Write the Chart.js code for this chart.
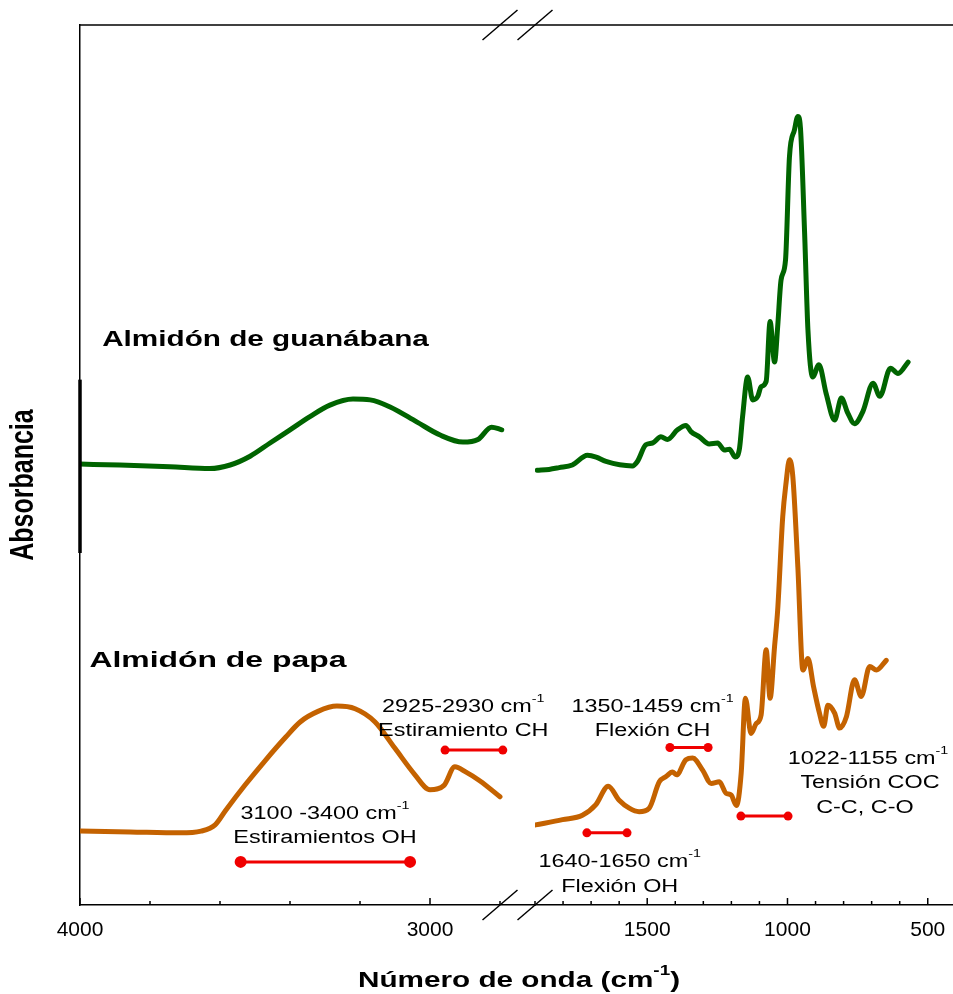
<!DOCTYPE html>
<html>
<head>
<meta charset="utf-8">
<script src="https://cdn.jsdelivr.net/npm/chart.js@4.4.0/dist/chart.umd.min.js"></script>
<style>
  html, body { margin: 0; padding: 0; background: #fff; overflow: hidden; }
  #wrap { position: relative; width: 953px; height: 994px; }
  #mycanvas { display: block; }
</style>
</head>
<body>
<div id="wrap"><canvas id="mycanvas"></canvas></div>
<script>
// FTIR spectra: wavenumber (cm-1) and stacked absorbance (a.u.)
var guanLeftWn  = [4000, 3886, 3743, 3629, 3571, 3514, 3457, 3400, 3343, 3286, 3220, 3171, 3114, 3038, 2971, 2906, 2863, 2824, 2795];
var guanLeftAbs = [0.501, 0.500, 0.498, 0.496, 0.500, 0.510, 0.525, 0.540, 0.555, 0.568, 0.575, 0.574, 0.566, 0.549, 0.534, 0.526, 0.529, 0.543, 0.540];

var guanRightWn  = [1892, 1850, 1814, 1767, 1713, 1682, 1647, 1553, 1535, 1505, 1481, 1451, 1428, 1392, 1362, 1344, 1314, 1279, 1249, 1225,
                    1207, 1186, 1171, 1160, 1142, 1124, 1106, 1094, 1076, 1062, 1046, 1035, 1023, 1007, 993, 975, 963, 954, 939, 927,
                    910, 888, 862, 832, 808, 785, 761, 731, 695, 671, 633, 606, 570];
var guanRightAbs = [0.494, 0.495, 0.497, 0.500, 0.511, 0.509, 0.504, 0.499, 0.504, 0.523, 0.525, 0.532, 0.529, 0.540, 0.545, 0.538, 0.532, 0.524, 0.525, 0.517,
                    0.518, 0.509, 0.519, 0.555, 0.600, 0.574, 0.578, 0.589, 0.595, 0.663, 0.617, 0.657, 0.710, 0.733, 0.850, 0.881, 0.896, 0.884, 0.764, 0.653,
                    0.600, 0.614, 0.581, 0.551, 0.576, 0.559, 0.547, 0.561, 0.593, 0.578, 0.610, 0.604, 0.617];

var papaLeftWn  = [4000, 3857, 3714, 3654, 3614, 3583, 3529, 3469, 3414, 3371, 3320, 3266, 3214, 3157, 3100, 3043, 3000, 2960, 2929, 2897, 2857, 2800];
var papaLeftAbs = [0.084, 0.083, 0.082, 0.084, 0.091, 0.108, 0.136, 0.165, 0.190, 0.208, 0.220, 0.226, 0.223, 0.208, 0.178, 0.148, 0.131, 0.136, 0.157, 0.151, 0.141, 0.123];

var papaRightWn  = [1898, 1802, 1731, 1683, 1639, 1600, 1564, 1529, 1493, 1457, 1433, 1410, 1395, 1362, 1338, 1302, 1272, 1243, 1219, 1201,
                    1182, 1165, 1150, 1130, 1112, 1094, 1076, 1062, 1046, 1035, 1017, 1005, 993, 981, 963, 945, 927, 907, 886, 871,
                    856, 832, 814, 790, 761, 737, 707, 683, 648];
var papaRightAbs = [0.091, 0.097, 0.102, 0.114, 0.135, 0.119, 0.110, 0.106, 0.110, 0.140, 0.146, 0.151, 0.148, 0.165, 0.167, 0.153, 0.138, 0.140, 0.127, 0.125,
                    0.113, 0.150, 0.235, 0.195, 0.206, 0.216, 0.290, 0.235, 0.294, 0.335, 0.441, 0.480, 0.506, 0.487, 0.384, 0.267, 0.280, 0.248, 0.218, 0.203,
                    0.227, 0.218, 0.201, 0.214, 0.256, 0.237, 0.271, 0.267, 0.278];

// band ranges marked with red bars: [from, to] wavenumber and the level they sit at
var bandOhStretch = [3541, 3057], bandOhStretchY = 0.049;
var bandChStretch = [2957, 2792], bandChStretchY = 0.176;
var bandChBend    = [1419, 1283], bandChBendY    = 0.179;
var bandOhBend    = [1715, 1572], bandOhBendY    = 0.082;
var bandCoc       = [1166, 998],  bandCocY       = 0.101;

// axis ticks (broken axis: 4000-2700 | 1900-410)
var leftTicks   = [4000, 3800, 3600, 3400, 3200, 3000, 2800];
var rightTicks  = [1900, 1800, 1700, 1600, 1500, 1400, 1300, 1200, 1100, 1000, 900, 800, 700, 600, 500];
var leftLabels  = [4000, 3000];
var rightLabels = [1500, 1000, 500];

// absorbance scale bar on the y axis
var scaleBar = [0.400, 0.597];

var GREEN = '#006400', ORANGE = '#c46200', RED = '#f00000';
var FONT = 'Arial, "Liberation Sans", sans-serif';

function toPts(wn, ab) {
  return wn.map(function(w, i) { return {x: w, y: ab[i]}; });
}
function bandPts(range, y) {
  return [{x: range[0], y: y}, {x: range[1], y: y}];
}

function spectrum(data, color, axis) {
  return {
    data: data, xAxisID: axis, yAxisID: 'y',
    borderColor: color, borderWidth: 5, pointRadius: 0,
    cubicInterpolationMode: 'monotone', borderCapStyle: 'round', borderJoinStyle: 'round',
    fill: false
  };
}
function band(data, axis, r) {
  return {
    data: data, xAxisID: axis, yAxisID: 'y',
    borderColor: RED, borderWidth: 3, pointRadius: r,
    pointBackgroundColor: RED, pointBorderWidth: 0, fill: false
  };
}

// text labels (placed in data coords, stretched horizontally like the original figure)
var notes = [
  {axis: 'xL', x: 3300, y: 0.0977, parts: [['3100 -3400 cm'], ['-1', 1]]},
  {axis: 'xL', x: 3300, y: 0.0705, parts: [['Estiramientos OH']]},
  {axis: 'xL', x: 2905, y: 0.2197, parts: [['2925-2930 cm'], ['-1', 1]]},
  {axis: 'xL', x: 2905, y: 0.1920, parts: [['Estiramiento CH']]},
  {axis: 'xR', x: 1481, y: 0.2197, parts: [['1350-1459 cm'], ['-1', 1]]},
  {axis: 'xR', x: 1481, y: 0.1920, parts: [['Flexión CH']]},
  {axis: 'xR', x: 1598, y: 0.0432, parts: [['1640-1650 cm'], ['-1', 1]]},
  {axis: 'xR', x: 1598, y: 0.0148, parts: [['Flexión OH']]},
  {axis: 'xR', x: 713,  y: 0.1600, parts: [['1022-1155 cm'], ['-1', 1]]},
  {axis: 'xR', x: 706,  y: 0.1326, parts: [['Tensión COC']]},
  {axis: 'xR', x: 724,  y: 0.1049, parts: [['C-C, C-O']]},
  {axis: 'xL', x: 3470, y: 0.635, parts: [['Almidón de guanábana']], size: 22, bold: true, sx: 1.35},
  {axis: 'xL', x: 3606, y: 0.270, parts: [['Almidón de papa']], size: 22, bold: true, sx: 1.45}
];

function drawParts(ctx, parts, cx, base, size, bold, sx) {
  var b = bold ? 'bold ' : '';
  var supSize = Math.round(size * 0.62);
  var widths = [], total = 0;
  parts.forEach(function(p) {
    ctx.font = b + (p[1] ? supSize : size) + 'px ' + FONT;
    var w = ctx.measureText(p[0]).width;
    widths.push(w); total += w;
  });
  ctx.save();
  ctx.translate(cx, base);
  ctx.scale(sx, 1);
  ctx.fillStyle = '#000';
  ctx.textAlign = 'left';
  ctx.textBaseline = 'alphabetic';
  var x = -total / 2;
  parts.forEach(function(p, i) {
    ctx.font = b + (p[1] ? supSize : size) + 'px ' + FONT;
    ctx.fillText(p[0], x, p[1] ? -size * 0.55 : 0);
    x += widths[i];
  });
  ctx.restore();
}

var decor = {
  id: 'decor',
  afterDraw: function(chart) {
    var ctx = chart.ctx, area = chart.chartArea;
    var xL = chart.scales.xL, xR = chart.scales.xR, y = chart.scales.y;
    ctx.save();
    ctx.strokeStyle = '#000';
    ctx.lineWidth = 1.5;
    // top frame line
    ctx.beginPath();
    ctx.moveTo(area.left, area.top);
    ctx.lineTo(area.right, area.top);
    ctx.stroke();
    // inward tick marks
    function ticks(scale, vals, labels) {
      vals.forEach(function(v) {
        var px = scale.getPixelForValue(v);
        var len = labels.indexOf(v) >= 0 ? 7 : 4;
        ctx.beginPath();
        ctx.moveTo(px, area.bottom);
        ctx.lineTo(px, area.bottom - len);
        ctx.stroke();
      });
    }
    ticks(xL, leftTicks, leftLabels);
    ticks(xR, rightTicks, rightLabels);
    // axis break marks
    [xL.getPixelForValue(2800), xR.getPixelForValue(1900)].forEach(function(px) {
      [area.top, area.bottom].forEach(function(py) {
        ctx.beginPath();
        ctx.moveTo(px - 17.5, py + 15);
        ctx.lineTo(px + 17.5, py - 15);
        ctx.stroke();
      });
    });
    // scale bar on the y axis
    ctx.lineWidth = 3.5;
    ctx.beginPath();
    ctx.moveTo(area.left, y.getPixelForValue(scaleBar[0]));
    ctx.lineTo(area.left, y.getPixelForValue(scaleBar[1]));
    ctx.stroke();
    ctx.restore();

    notes.forEach(function(n) {
      var sc = chart.scales[n.axis];
      drawParts(ctx, n.parts, sc.getPixelForValue(n.x), y.getPixelForValue(n.y),
                n.size || 18, n.bold, n.sx || 1.3);
    });

    // axis titles
    drawParts(ctx, [['Número de onda (cm'], ['-1', 1], [')']], 519, 987, 22, true, 1.35);
    ctx.save();
    ctx.translate(33, 485);
    ctx.rotate(-Math.PI / 2);
    ctx.scale(1, 1.35);
    ctx.font = 'bold 25px ' + FONT;
    ctx.fillStyle = '#000';
    ctx.textAlign = 'center';
    ctx.textBaseline = 'alphabetic';
    ctx.fillText('Absorbancia', 0, 0);
    ctx.restore();
  }
};

Chart.defaults.font.family = FONT;

function xAxis(min, max, weight, order, tickVals, labelVals) {
  return {
    type: 'linear', position: 'bottom', stack: 'wn', stackWeight: weight, weight: order,
    reverse: true, min: min, max: max,
    afterBuildTicks: function(s) { s.ticks = tickVals.map(function(v) { return {value: v}; }); },
    afterFit: function(s) { s.height = 89; s.paddingLeft = 0; s.paddingRight = 0; },
    grid: { display: false, drawTicks: false },
    border: { display: true, color: '#000', width: 1.5 },
    ticks: {
      autoSkip: false, maxRotation: 0, padding: 13, color: '#000', font: { size: 21 },
      callback: function(v) { return labelVals.indexOf(v) >= 0 ? String(v) : ''; }
    }
  };
}

var ctx = document.getElementById('mycanvas');
var chart = new Chart(ctx, {
  type: 'line',
  data: {
    datasets: [
      spectrum(toPts(guanLeftWn, guanLeftAbs), GREEN, 'xL'),
      spectrum(toPts(guanRightWn, guanRightAbs), GREEN, 'xR'),
      spectrum(toPts(papaLeftWn, papaLeftAbs), ORANGE, 'xL'),
      spectrum(toPts(papaRightWn, papaRightAbs), ORANGE, 'xR'),
      band(bandPts(bandOhStretch, bandOhStretchY), 'xL', 6),
      band(bandPts(bandChStretch, bandChStretchY), 'xL', 4.5),
      band(bandPts(bandChBend, bandChBendY), 'xR', 4.5),
      band(bandPts(bandOhBend, bandOhBendY), 'xR', 4.5),
      band(bandPts(bandCoc, bandCocY), 'xR', 4.5)
    ]
  },
  options: {
    responsive: true,
    maintainAspectRatio: false,
    animation: false,
    layout: { padding: { left: 80, top: 25, right: 0, bottom: 0 } },
    plugins: { legend: { display: false }, tooltip: { enabled: false } },
    scales: {
      xL: xAxis(2700, 4000, 455, 0, leftTicks, leftLabels),
      xR: xAxis(410, 1900, 418, 1, rightTicks, rightLabels),
      y: {
        min: 0, max: 1,
        ticks: { display: false },
        grid: { display: false, drawTicks: false },
        border: { display: true, color: '#000', width: 1.5 },
        afterFit: function(s) { s.width = 0; }
      }
    }
  },
  plugins: [decor]
});

// the plot box runs off the right edge in the original: widen the canvas so the
// chart area reaches the page edge (the few reserved pixels fall outside the window)
var gap = 953 - chart.chartArea.right;
if (gap > 0) {
  document.getElementById('wrap').style.width = (953 + gap) + 'px';
  chart.resize();
}
</script>
</body>
</html>
